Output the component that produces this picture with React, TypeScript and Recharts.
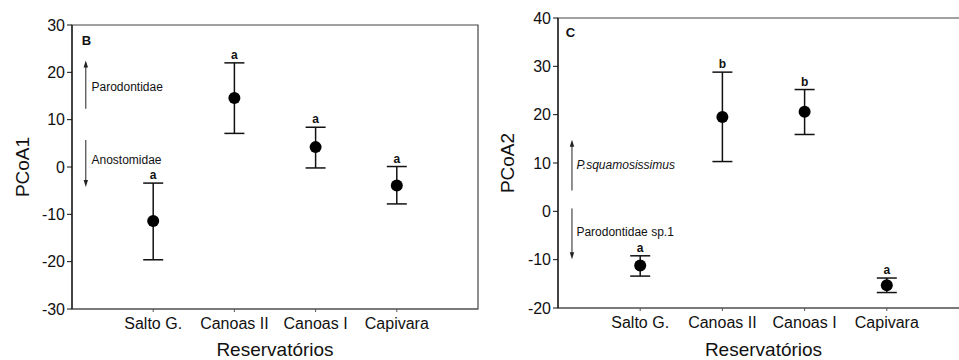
import React from 'react';
import {
  ComposedChart,
  Scatter,
  XAxis,
  YAxis,
  ErrorBar,
  ReferenceLine,
  ReferenceDot,
  ReferenceArea,
} from 'recharts';

// ---- data ----
const categories = ['Salto G.', 'Canoas II', 'Canoas I', 'Capivara'];
const positions = [1, 2, 3, 4];

const meanB = [-11.4, 14.6, 4.2, -3.9];
const upperB = [-3.4, 22.0, 8.4, 0.1];
const lowerB = [-19.6, 7.1, -0.2, -7.8];
const lettersB = ['a', 'a', 'a', 'a'];
const ticksB = [-30, -20, -10, 0, 10, 20, 30];

const meanC = [-11.2, 19.5, 20.6, -15.3];
const upperC = [-9.2, 28.8, 25.2, -13.8];
const lowerC = [-13.4, 10.3, 15.9, -16.8];
const lettersC = ['a', 'b', 'b', 'a'];
const ticksC = [-20, -10, 0, 10, 20, 30, 40];

const arrowsB = [
  { x: 0.17, from: 12.3, to: 22.5 },
  { x: 0.17, from: 5.7, to: -4.2 },
];
const notesB = [
  { x: 0.24, y: 16.9, text: 'Parodontidae', italic: false },
  { x: 0.24, y: 1.5, text: 'Anostomidae', italic: false },
];
const arrowsC = [
  { x: 0.17, from: 4.3, to: 14.8 },
  { x: 0.17, from: 0.6, to: -9.9 },
];
const notesC = [
  { x: 0.224, y: 9.5, text: 'P.squamosissimus', italic: true },
  { x: 0.224, y: -4.3, text: 'Parodontidae sp.1', italic: false },
];

const FONT = '"Liberation Sans", Arial, sans-serif';

type Row = { x: number; mean: number; err: [number, number]; upper: number; letter: string };

function buildRows(mean: number[], upper: number[], lower: number[], letters: string[]): Row[] {
  return positions.map((p, i) => ({
    x: p,
    mean: mean[i],
    err: [mean[i] - lower[i], upper[i] - mean[i]],
    upper: upper[i],
    letter: letters[i],
  }));
}

const Dot = (props: any) => {
  const { cx, cy } = props;
  if (cx == null || cy == null) return null;
  return <circle cx={cx} cy={cy} r={6} fill="#000" />;
};

const ArrowShape = (props: any) => {
  const { x1, y1, x2, y2 } = props;
  if ([x1, y1, x2, y2].some((v) => v == null || isNaN(v))) return null;
  const dir = y2 < y1 ? -1 : 1;
  const hl = 7;
  const hw = 2.2;
  return (
    <g>
      <line x1={x1} y1={y1} x2={x2} y2={y2 - dir * 3} stroke="#222" strokeWidth={1} />
      <path
        d={`M${x2},${y2} L${x2 - hw},${y2 - dir * hl} L${x2 + hw},${y2 - dir * hl} Z`}
        fill="#222"
      />
    </g>
  );
};

const makeText = (text: string, opts: { size: number; bold?: boolean; italic?: boolean; anchor?: string; dy?: number }) =>
  (props: any) => {
    const { cx, cy } = props;
    if (cx == null || cy == null) return null;
    return (
      <text
        x={cx}
        y={cy + (opts.dy ?? 0)}
        fontFamily={FONT}
        fontSize={opts.size}
        fontWeight={opts.bold ? 'bold' : 'normal'}
        fontStyle={opts.italic ? 'italic' : 'normal'}
        textAnchor={opts.anchor ?? 'start'}
        dominantBaseline={opts.dy === undefined ? 'central' : 'auto'}
        fill="#111"
      >
        {text}
      </text>
    );
  };

const yTitle = (text: string, dx: number) => (props: any) => {
  const vb = props.viewBox || {};
  const cx = vb.x + dx;
  const cy = vb.y + vb.height / 2;
  return (
    <text
      x={cx}
      y={cy}
      transform={`rotate(-90, ${cx}, ${cy})`}
      textAnchor="middle"
      dominantBaseline="central"
      fontFamily={FONT}
      fontSize={19}
      fill="#111"
    >
      {text}
    </text>
  );
};

const xTitle = (text: string, dy: number) => (props: any) => {
  const vb = props.viewBox || {};
  const cx = vb.x + vb.width / 2;
  const cy = vb.y + dy;
  return (
    <text
      x={cx}
      y={cy}
      textAnchor="middle"
      dominantBaseline="central"
      fontFamily={FONT}
      fontSize={19}
      fill="#111"
    >
      {text}
    </text>
  );
};

type PanelProps = {
  width: number;
  height: number;
  margin: { top: number; right: number; bottom: number; left: number };
  yAxisWidth: number;
  xAxisHeight: number;
  rows: Row[];
  yDomain: [number, number];
  yTicks: number[];
  yLabel: string;
  yLabelDx: number;
  xLabelDy: number;
  panelLetter: { x: number; y: number; text: string };
  arrows: { x: number; from: number; to: number }[];
  notes: { x: number; y: number; text: string; italic: boolean }[];
};

function Panel(p: PanelProps) {
  return (
    <ComposedChart width={p.width} height={p.height} margin={p.margin}>
      <XAxis
        type="number"
        dataKey="x"
        domain={[0, 5]}
        ticks={positions}
        tickFormatter={(v: number) => categories[v - 1] ?? ''}
        height={p.xAxisHeight}
        axisLine={{ stroke: '#555', strokeWidth: 1.2 }}
        tickLine={{ stroke: '#555' }}
        tickSize={3}
        tickMargin={6}
        tick={{ fontFamily: FONT, fontSize: 16, fill: '#111' }}
        allowDataOverflow
        label={{ content: xTitle('Reservatórios', p.xLabelDy) } as any}
      />
      <YAxis
        type="number"
        dataKey="mean"
        domain={p.yDomain}
        ticks={p.yTicks}
        width={p.yAxisWidth}
        axisLine={{ stroke: '#111', strokeWidth: 1.2 }}
        tickLine={{ stroke: '#111' }}
        tickSize={5}
        tickMargin={2}
        tick={{ fontFamily: FONT, fontSize: 16, fill: '#111' }}
        allowDataOverflow
        interval={0}
        label={{ content: yTitle(p.yLabel, p.yLabelDx) } as any}
      />
      <ReferenceArea
        x1={0}
        x2={5}
        y1={p.yDomain[0]}
        y2={p.yDomain[1]}
        fill="none"
        fillOpacity={0}
        stroke="#444"
        strokeWidth={1.2}
        ifOverflow="visible"
      />
      {p.arrows.map((a, i) => (
        <ReferenceLine
          key={'arr' + i}
          segment={[
            { x: a.x, y: a.from },
            { x: a.x, y: a.to },
          ]}
          shape={ArrowShape as any}
          ifOverflow="visible"
        />
      ))}
      {p.notes.map((n, i) => (
        <ReferenceDot
          key={'note' + i}
          x={n.x}
          y={n.y}
          r={0}
          ifOverflow="visible"
          shape={makeText(n.text, { size: 12, italic: n.italic }) as any}
        />
      ))}
      <ReferenceDot
        x={p.panelLetter.x}
        y={p.panelLetter.y}
        r={0}
        ifOverflow="visible"
        shape={makeText(p.panelLetter.text, { size: 13, bold: true }) as any}
      />
      {p.rows.map((r, i) => (
        <ReferenceDot
          key={'let' + i}
          x={r.x}
          y={r.upper}
          r={0}
          ifOverflow="visible"
          shape={makeText(r.letter, { size: 12, bold: true, anchor: 'middle', dy: -4 }) as any}
        />
      ))}
      <Scatter data={p.rows} shape={Dot as any} isAnimationActive={false}>
        <ErrorBar dataKey="err" direction="y" width={10} stroke="#111" strokeWidth={1.5} isAnimationActive={false} />
      </Scatter>
    </ComposedChart>
  );
}

export default function App() {
  const rowsB = buildRows(meanB, upperB, lowerB, lettersB);
  const rowsC = buildRows(meanC, upperC, lowerC, lettersC);
  return (
    <div
      style={{
        position: 'absolute',
        left: 0,
        top: 0,
        width: 959,
        height: 360,
        overflow: 'hidden',
        background: '#fff',
      }}
    >
      <div style={{ position: 'absolute', left: 0, top: 0 }}>
        <Panel
          width={480}
          height={360}
          margin={{ top: 25, right: 2, bottom: 0, left: 0 }}
          yAxisWidth={72}
          xAxisHeight={51}
          rows={rowsB}
          yDomain={[-30, 30]}
          yTicks={ticksB}
          yLabel="PCoA1"
          yLabelDx={22}
          xLabelDy={40}
          panelLetter={{ x: 0.12, y: 26.8, text: 'B' }}
          arrows={arrowsB}
          notes={notesB}
        />
      </div>
      <div style={{ position: 'absolute', left: 480, top: 0 }}>
        <Panel
          width={490}
          height={360}
          margin={{ top: 18, right: 1, bottom: 0, left: 0 }}
          yAxisWidth={78}
          xAxisHeight={52}
          rows={rowsC}
          yDomain={[-20, 40]}
          yTicks={ticksC}
          yLabel="PCoA2"
          yLabelDx={27}
          xLabelDy={41}
          panelLetter={{ x: 0.094, y: 37.1, text: 'C' }}
          arrows={arrowsC}
          notes={notesC}
        />
      </div>
    </div>
  );
}
